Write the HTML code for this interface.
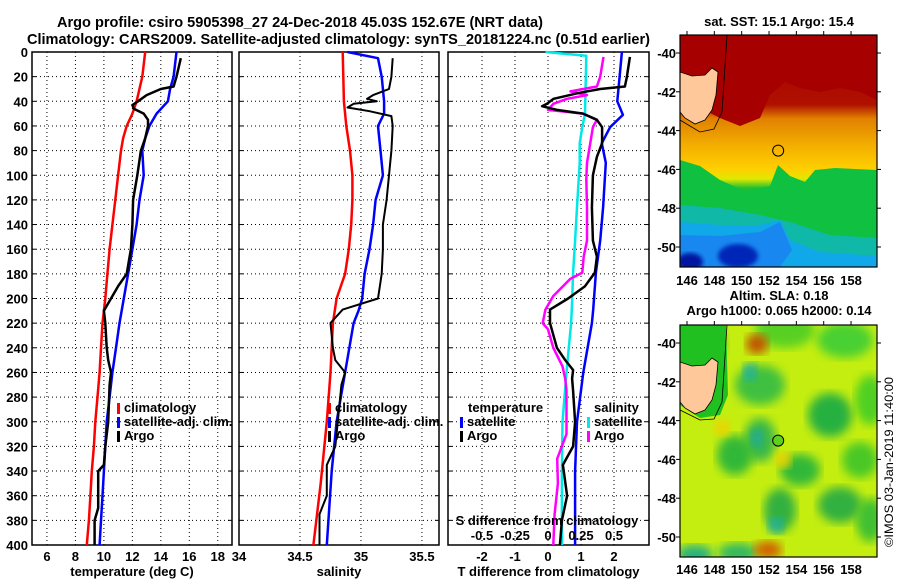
<!DOCTYPE html>
<html><head><meta charset="utf-8"><style>
body{margin:0;background:#fff;}
svg{display:block;font-family:"Liberation Sans",Arial,sans-serif;font-weight:bold;}
</style></head><body>
<svg id="chart" width="900" height="580" viewBox="0 0 900 580" xmlns="http://www.w3.org/2000/svg">
<defs>
<clipPath id="cm1"><rect x="680" y="35" width="197" height="232"/></clipPath>
<clipPath id="cm2"><rect x="680" y="325" width="197" height="232"/></clipPath>
<filter id="blur4"><feGaussianBlur stdDeviation="5"/></filter>
<filter id="blur2"><feGaussianBlur stdDeviation="2"/></filter>
<linearGradient id="sstg" x1="0" y1="0" x2="0" y2="1">
<stop offset="0" stop-color="#a50000"/><stop offset="0.3" stop-color="#b01000"/>
<stop offset="0.36" stop-color="#e08000"/><stop offset="0.48" stop-color="#f4b000"/>
<stop offset="0.58" stop-color="#ffd000"/><stop offset="0.62" stop-color="#e0e800"/>
<stop offset="0.66" stop-color="#20c030"/><stop offset="1" stop-color="#10b850"/></linearGradient>
</defs>
<text x="57" y="27" font-size="15" textLength="486" lengthAdjust="spacingAndGlyphs">Argo profile: csiro 5905398_27 24-Dec-2018 45.03S 152.67E (NRT data)</text>
<text x="27" y="44" font-size="15" textLength="623" lengthAdjust="spacingAndGlyphs">Climatology: CARS2009. Satellite-adjusted climatology: synTS_20181224.nc (0.51d earlier)</text>
<g id="panels"></g>
<g id="maps"></g>
</svg>
<script>
// ---- data ----
const depthAxisTicks=[0,20,40,60,80,100,120,140,160,180,200,220,240,260,280,300,320,340,360,380,400];
const tempTicks=[6,8,10,12,14,16,18];
const salTicks=[34,34.5,35,35.5];
const tdiffTicks=[-2,-1,0,1,2];
const sdiffTicks=[-0.5,-0.25,0,0.25,0.5];
const tempClimDepth=[0,20,40,50,60,70,80,100,120,140,160,180,200,220,240,260,280,300,320,340,360,380,400];
const tempClimVal=[12.9,12.7,12.3,12.0,11.6,11.35,11.2,11.0,10.8,10.6,10.4,10.25,10.1,9.9,9.8,9.7,9.55,9.4,9.3,9.15,9.05,8.95,8.8];
const tempSatDepth=[0,20,30,40,50,60,70,80,100,120,140,160,180,200,220,240,260,280,300,320,340,360,380,400];
const tempSatVal=[15.1,14.9,14.65,14.5,13.7,13.2,12.9,12.7,12.8,12.5,12.3,12.0,11.7,11.4,11.1,10.85,10.6,10.4,10.2,10.1,10.0,9.9,9.8,9.7];
const tempArgoDepth=[5,20,28,30,35,40,43,46,50,55,60,70,80,100,120,140,160,180,190,200,210,220,240,250,260,270,300,320,335,340,370,380,400];
const tempArgoVal=[15.4,15.1,14.9,14.0,13.0,12.4,12.0,12.1,12.8,13.1,13.1,12.9,12.6,12.35,12.05,12.0,11.9,11.6,11.0,10.5,10.0,10.1,10.2,10.3,10.5,10.4,10.3,10.1,10.0,9.6,9.6,9.35,9.35];
const salClimDepth=[0,40,60,80,100,120,140,160,180,200,220,260,300,350,400];
const salClimVal=[34.85,34.86,34.88,34.91,34.93,34.93,34.92,34.90,34.87,34.80,34.77,34.75,34.72,34.67,34.61];
const salSatDepth=[0,5,20,40,50,60,80,100,120,140,160,180,200,210,220,260,300,340,400];
const salSatVal=[34.89,35.14,35.17,35.19,35.19,35.14,35.16,35.18,35.12,35.10,35.07,35.03,35.01,34.98,34.94,34.87,34.80,34.76,34.72];
const salArgoDepth=[5,20,30,35,38,40,42,45,48,52,60,80,100,120,140,160,180,200,209,220,240,250,260,270,300,320,335,360,375,400];
const salArgoVal=[35.26,35.25,35.23,35.10,35.05,35.13,34.94,34.89,35.07,35.25,35.26,35.25,35.23,35.21,35.18,35.18,35.17,35.14,34.85,34.75,34.77,34.79,34.87,34.84,34.81,34.79,34.72,34.72,34.66,34.66];
const dTSatDepth=[0,40,51,61,74,90,126,153,179,209,220,260,300,340,400];
const dTSatVal=[2.24,2.1,2.27,1.88,1.63,1.75,1.67,1.58,1.45,1.37,1.33,1.07,0.88,0.82,0.82];
const dSSatDepth=[0,3,50,61,74,90,126,153,179,209,220,260,300,340,400];
const dSSatVal=[-0.02,0.29,0.28,0.26,0.24,0.24,0.22,0.205,0.19,0.18,0.175,0.14,0.11,0.105,0.105];
const dSArgoDepth=[4,20,28,32,35,38,42,47,50,55,61,90,103,126,153,166,179,184,198,209,220,225,240,255,265,275,300,310,330,350,375,400];
const dSArgoVal=[0.42,0.395,0.37,0.17,0.295,0.145,0.04,0,0.265,0.37,0.34,0.295,0.29,0.295,0.295,0.27,0.26,0.17,0.04,-0.02,-0.04,0,0.04,0.11,0.13,0.14,0.14,0.14,0.07,0.075,0.05,0.04];
const dTArgoDepth=[4,20,28,30,33,38,42,44,47,50,55,61,74,85,100,126,153,166,179,190,200,209,220,240,250,258,265,275,300,320,335,360,380,400];
const dTArgoVal=[2.48,2.39,2.33,1.58,0.97,0.17,-0.03,-0.18,0.27,1.06,1.48,1.64,1.64,1.48,1.36,1.33,1.36,1.48,1.42,1.12,0.61,0.06,0.06,0.27,0.52,0.76,0.73,0.76,0.82,0.76,0.45,0.58,0.42,0.36];
const mapLatTicks=[-40,-42,-44,-46,-48,-50];
const mapLonTicks=[146,148,150,152,154,156,158];

const NS='http://www.w3.org/2000/svg';
const P=document.getElementById('panels');
function el(tag,attrs,parent){const e=document.createElementNS(NS,tag);for(const k in attrs)e.setAttribute(k,attrs[k]);(parent||P).appendChild(e);return e;}
const Y0=52,Y1=545;
const yScale=d=>Y0+d*(Y1-Y0)/400;
function mkX(x0,x1,v0,v1){return v=>x0+(v-v0)*(x1-x0)/(v1-v0);}
const panelDefs=[
 {name:'temperature-panel',x0:32,x1:232,v0:4.95,v1:19.0,ticks:tempTicks,title:'temperature (deg C)'},
 {name:'salinity-panel',x0:239,x1:439,v0:34,v1:35.64,ticks:salTicks,title:'salinity'},
 {name:'difference-panel',x0:448,x1:649,v0:-3.03,v1:3.06,ticks:tdiffTicks,title:'T difference from climatology'}
];
const xs=panelDefs.map(p=>mkX(p.x0,p.x1,p.v0,p.v1));
panelDefs.forEach((p,i)=>{
 const g=el('g',{});
 
 
 const xf=xs[i];
 depthAxisTicks.forEach(d=>{ if(d>0&&d<400){const l=el('line',{x1:p.x0,x2:p.x1,y1:yScale(d),y2:yScale(d),stroke:'#000','stroke-width':1,'stroke-dasharray':'1 3'},g);}
   el('line',{x1:p.x0,x2:p.x0+4,y1:yScale(d),y2:yScale(d),stroke:'#000'},g);el('line',{x1:p.x1-4,x2:p.x1,y1:yScale(d),y2:yScale(d),stroke:'#000'},g);});
 p.ticks.forEach(t=>{const x=xf(t);
   if(x>p.x0+2&&x<p.x1-2){const l=el('line',{x1:x,x2:x,y1:Y0,y2:Y1,stroke:'#000','stroke-width':1,'stroke-dasharray':'1 3'},g);}
   const tl=el('text',{x:x,y:561,'font-size':13,'text-anchor':'middle'},g);tl.textContent=String(t);
   });
 const r=el('rect',{x:p.x0,y:Y0,width:p.x1-p.x0,height:Y1-Y0,fill:'none',stroke:'#000','stroke-width':1.5},g);
 
 const at=el('text',{x:(p.x0+p.x1)/2,y:576,'font-size':13,'text-anchor':'middle'},g);at.textContent=p.title;
 
});
depthAxisTicks.forEach(d=>{const t=el('text',{x:28,y:yScale(d)+5,'font-size':13,'text-anchor':'end'});t.textContent=String(d);
 });
function line(depths,vals,xf,color,name,w){
 let s='';depths.forEach((d,i)=>{s+=(i?'L':'M')+xf(vals[i]).toFixed(1)+','+yScale(d).toFixed(1);});
 const pth=el('path',{d:s,fill:'none',stroke:color,'stroke-width':w||2.5,'stroke-linejoin':'round'});
 }
line(tempClimDepth,tempClimVal,xs[0],'#ff0000','temp-climatology-line');
line(tempSatDepth,tempSatVal,xs[0],'#0000ff','temp-satellite-line');
line(tempArgoDepth,tempArgoVal,xs[0],'#000','temp-argo-line');
line(salClimDepth,salClimVal,xs[1],'#ff0000','sal-climatology-line');
line(salSatDepth,salSatVal,xs[1],'#0000ff','sal-satellite-line');
line(salArgoDepth,salArgoVal,xs[1],'#000','sal-argo-line',2);
const xsd=v=>xs[2](v*4);
line(dSSatDepth,dSSatVal,xsd,'#00e8e8','sdiff-satellite-line');
line(dTSatDepth,dTSatVal,xs[2],'#0000ff','tdiff-satellite-line');
line(dSArgoDepth,dSArgoVal,xsd,'#ff00ff','sdiff-argo-line');
line(dTArgoDepth,dTArgoVal,xs[2],'#000','tdiff-argo-line');
const sat=el('text',{x:547,y:525,'font-size':13,'text-anchor':'middle'});sat.textContent='S difference from climatology';

sdiffTicks.forEach(t=>{const tl=el('text',{x:xsd(t),y:540,'font-size':13,'text-anchor':'middle'});tl.textContent=String(t);
 });
function legend(x,y,color,label,name){const g=el('g',{});
 el('rect',{x:x,y:y-9,width:3,height:11,fill:color},g);const t=el('text',{x:x+7,y:y,'font-size':13},g);t.textContent=label;}
legend(117,412,'#ff0000','climatology','legend-temp-climatology');
legend(117,426,'#0000ff','satellite-adj. clim.','legend-temp-satellite');
legend(117,440,'#000','Argo','legend-temp-argo');
legend(328,412,'#ff0000','climatology','legend-sal-climatology');
legend(328,426,'#0000ff','satellite-adj. clim.','legend-sal-satellite');
legend(328,440,'#000','Argo','legend-sal-argo');
const lt=el('text',{x:468,y:412,'font-size':13});lt.textContent='temperature';
legend(460,426,'#0000ff','satellite','legend-tdiff-satellite');
legend(460,440,'#000','Argo','legend-tdiff-argo');
const ls=el('text',{x:594,y:412,'font-size':13});ls.textContent='salinity';
legend(587,426,'#00e8e8','satellite','legend-sdiff-satellite');
legend(587,440,'#ff00ff','Argo','legend-sdiff-argo');

// ---- maps ----
const M=document.getElementById('maps');
function mel(tag,attrs,parent){const e=document.createElementNS(NS,tag);for(const k in attrs)e.setAttribute(k,attrs[k]);(parent||M).appendChild(e);return e;}
const lonX=lon=>687+(lon-146)*13.67;
function mapAxes(top,latY,labelY){
 mapLatTicks.forEach(l=>{const t=mel('text',{x:676,y:latY(l)+5,'font-size':13,'text-anchor':'end'});t.textContent=String(l);
  
  mel('line',{x1:877,x2:881,y1:latY(l),y2:latY(l),stroke:'#000'});mel('line',{x1:676,x2:680,y1:latY(l),y2:latY(l),stroke:'#000'});});
 mapLonTicks.forEach(l=>{const t=mel('text',{x:lonX(l),y:labelY,'font-size':13,'text-anchor':'middle'});t.textContent=String(l);
  
  mel('line',{x1:lonX(l),x2:lonX(l),y1:top-4,y2:top,stroke:'#000'});});
}
const g1=mel('g',{'clip-path':'url(#cm1)'});
mel('rect',{x:680,y:35,width:197,height:232,fill:'url(#sstg)'},g1);
mel('path',{d:'M680,105 L700,108 L720,118 L740,126 L760,118 L770,95 L785,82 L800,88 L820,92 L840,88 L860,92 L877,100 L877,35 L680,35Z',fill:'#a60000'},g1);
mel('path',{d:'M680,160 L700,166 L720,180 L745,191 L770,186 L778,165 L790,176 L805,182 L815,170 L835,168 L877,170 L877,267 L680,267Z',fill:'#10c040'},g1);
mel('path',{d:'M680,205 L720,208 L760,215 L790,222 L830,235 L877,238 L877,267 L680,267Z',fill:'#10b8a8'},g1);
mel('path',{d:'M680,222 L720,225 L760,225 L780,220 L790,240 L820,252 L877,256 L877,267 L680,267Z',fill:'#10a8e8'},g1);
mel('path',{d:'M680,235 L720,236 L760,232 L780,222 L792,250 L780,267 L680,267Z',fill:'#1888f0'},g1);
mel('ellipse',{cx:690,cy:262,rx:13,ry:9,fill:'#0018a0',filter:'url(#blur2)'},g1);
mel('ellipse',{cx:738,cy:256,rx:20,ry:12,fill:'#0028b8',filter:'url(#blur2)'},g1);
mel('path',{d:'M680,72 L692,76 L705,75 L712,68 L718,72 L716,95 L712,110 L705,120 L695,124 L685,118 L680,112Z',fill:'#ffc89a',stroke:'#000','stroke-width':0.8},g1);
mel('path',{d:'M680,120 L700,132 L714,129 L722,112 L727,35',fill:'none',stroke:'#000','stroke-width':0.8},g1);
mel('rect',{x:680,y:35,width:197,height:232,fill:'none',stroke:'#000','stroke-width':1.2});
mel('circle',{cx:lonX(152.67),cy:53+5.03*19.4,r:5.5,fill:'none',stroke:'#000'},g1);
mapAxes(35,l=>53+(-40-l)*19.4,285);
const t1=mel('text',{x:779,y:26,'font-size':13,'text-anchor':'middle'});t1.textContent='sat. SST: 15.1 Argo: 15.4';

const g2=mel('g',{'clip-path':'url(#cm2)'});
mel('rect',{x:680,y:325,width:197,height:232,fill:'#c4ee10'},g2);
const blobs=[[700,345,'#38c830',25,18],[785,330,'#58d020',30,18],[760,385,'#40c040',25,20],[845,340,'#48d030',28,18],[830,415,'#28b040',22,22],[870,400,'#50d020',15,25],[760,440,'#38b848',16,22],[735,455,'#30b838',18,20],[800,470,'#30b838',20,16],[860,460,'#48c828',18,18],[780,510,'#30b040',16,22],[840,505,'#30b040',22,18],[870,520,'#40c030',14,22],[695,555,'#20b080',18,10],[738,553,'#30b860',20,10]];
blobs.forEach(b=>mel('ellipse',{cx:b[0],cy:b[1],rx:b[3],ry:b[4],fill:b[2],filter:'url(#blur4)'},g2));
mel('ellipse',{cx:757,cy:344,rx:11,ry:10,fill:'#c05000',filter:'url(#blur4)'},g2);
mel('ellipse',{cx:768,cy:550,rx:14,ry:9,fill:'#d06000',filter:'url(#blur4)'},g2);
mel('ellipse',{cx:750,cy:372,rx:7,ry:9,fill:'#20b0a0',filter:'url(#blur4)'},g2);
mel('ellipse',{cx:757,cy:438,rx:6,ry:9,fill:'#20a8a0',filter:'url(#blur4)'},g2);
mel('ellipse',{cx:776,cy:525,rx:8,ry:8,fill:'#20b0a0',filter:'url(#blur4)'},g2);
mel('ellipse',{cx:722,cy:428,rx:8,ry:8,fill:'#f0d000',filter:'url(#blur4)'},g2);
mel('ellipse',{cx:783,cy:460,rx:8,ry:8,fill:'#f0d000',filter:'url(#blur4)'},g2);
mel('path',{d:'M680,325 L726,325 L728,395 L720,415 L700,418 L680,405Z',fill:'#20c020'},g2);
mel('path',{d:'M680,362 L692,366 L705,365 L712,358 L718,362 L716,385 L712,400 L705,410 L695,414 L685,408 L680,402Z',fill:'#ffc89a',stroke:'#000','stroke-width':0.8},g2);
mel('path',{d:'M680,410 L700,420 L714,419 L722,402 L727,325',fill:'none',stroke:'#000','stroke-width':0.8},g2);
mel('rect',{x:680,y:325,width:197,height:232,fill:'none',stroke:'#000','stroke-width':1.2});
mel('circle',{cx:lonX(152.67),cy:343+5.03*19.4,r:5.5,fill:'#60d020',stroke:'#000'},g2);
mapAxes(325,l=>343+(-40-l)*19.4,574);
const t2=mel('text',{x:779,y:300,'font-size':13,'text-anchor':'middle'});t2.textContent='Altim. SLA: 0.18';

const t3=mel('text',{x:779,y:315,'font-size':13,'text-anchor':'middle'});t3.textContent='Argo h1000: 0.065 h2000: 0.14';

const cp=mel('text',{x:0,y:0,'font-size':12,'font-weight':'normal',transform:'translate(893,547) rotate(-90)',textLength:'170',lengthAdjust:'spacingAndGlyphs'});cp.textContent='©IMOS 03-Jan-2019 11:40:00';

</script>
</body></html>
